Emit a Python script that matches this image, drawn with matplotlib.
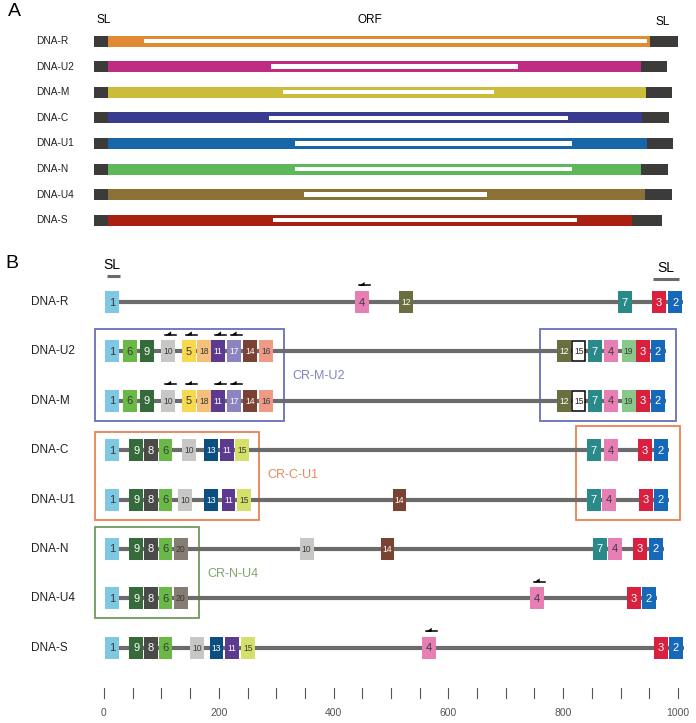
import matplotlib
matplotlib.use("Agg")
import matplotlib.pyplot as plt
from matplotlib.patches import Rectangle, Polygon

plt.rcParams['font.family'] = ['Liberation Sans', 'DejaVu Sans']

genomes = ['DNA-R', 'DNA-U2', 'DNA-M', 'DNA-C', 'DNA-U1', 'DNA-N', 'DNA-U4', 'DNA-S']

# panel A: genome length, end of coding region, ORF (white) start / end, in nt
a_len = [1017, 998, 1007, 1002, 1009, 1000, 1007, 990]
a_cds_end = [969, 953, 962, 955, 963, 953, 960, 937]
a_orf_start = [87, 308, 329, 305, 350, 350, 366, 312]
a_orf_end = [963, 739, 697, 826, 833, 833, 685, 842]
a_colors = ['#e08a34', '#bf2c84', '#cbbd3a', '#393c8e', '#1666a8', '#5cb85a', '#8c7038', '#a8200f']
sl_len = 24

# panel B: (gene id, start nt) for each genome
genes_R = [(1, 2), (4, 437), (12, 514), (7, 895), (3, 955), (2, 983)]
genes_U2 = [(1, 2), (6, 33), (9, 63), (10, 100), (5, 136), (18, 162), (11, 187), (17, 214),
            (14, 242), (16, 270), (12, 789), (15, 815), (7, 843), (4, 871), (19, 902), (3, 927), (2, 953)]
genes_M = list(genes_U2)
genes_C = [(1, 2), (9, 44), (8, 70), (6, 95), (10, 136), (13, 174), (11, 202), (15, 228),
           (7, 841), (4, 871), (3, 930), (2, 958)]
genes_U1 = [(1, 2), (9, 44), (8, 70), (6, 95), (10, 129), (13, 174), (11, 205), (15, 232),
            (14, 503), (7, 841), (4, 868), (3, 932), (2, 958)]
genes_N = [(1, 2), (9, 44), (8, 70), (6, 95), (20, 122), (10, 341), (14, 482), (7, 852),
           (4, 878), (3, 922), (2, 949)]
genes_U4 = [(1, 2), (9, 44), (8, 70), (6, 95), (20, 122), (4, 742), (3, 911), (2, 937)]
genes_S = [(1, 2), (9, 44), (8, 70), (6, 95), (10, 150), (13, 184), (11, 211), (15, 239),
           (4, 554), (3, 958), (2, 984)]
b_genes = [genes_R, genes_U2, genes_M, genes_C, genes_U1, genes_N, genes_U4, genes_S]

# genes with a primer arrow, per genome
b_arrows = [[4], [10, 5, 11, 17], [10, 5, 11, 17], [], [], [], [4], [4]]
# genes drawn as open box
b_open = [[], [15], [15], [], [], [], [], []]

gene_colors = {1: '#7ec8e3', 2: '#1569b8', 3: '#d9203f', 4: '#e77fb5', 5: '#f7d94f',
               6: '#6ab845', 7: '#2a8a8a', 8: '#4a4a48', 9: '#356a3a', 10: '#c7c7c5',
               11: '#5c3a8f', 12: '#6b6e3f', 13: '#0b4f80', 14: '#7a4232', 15: '#d4e06a',
               16: '#ee9a85', 17: '#8b84c0', 18: '#f6c07a', 19: '#88c98a', 20: '#857d74'}
light_text = {2, 3, 7, 8, 9, 11, 12, 13, 14, 17}

ticks = list(range(0, 1001, 50))
tick_labels = [0, 200, 400, 600, 800, 1000]

# conserved regions: name, rows, nt ranges of frames, colour
regions = [('CR-M-U2', (1, 2), [(-16, 314), (760, 997)], '#6a6fb8', '#7f83c4'),
           ('CR-C-U1', (3, 4), [(-16, 270), (822, 1003)], '#e8814f', '#e58a5e'),
           ('CR-N-U4', (5, 6), [(-16, 166)], '#6e9a5b', '#7ea56a')]

W, H = 696, 723
px = 0.574  # pixels per nt
fig = plt.figure(figsize=(W / 100, H / 100), dpi=100)

# ---- panel A ----
axA = fig.add_axes([0, 0, 1, 1])
x0A = 94
axA.set_xlim(-x0A / px, (W - x0A) / px)
axA.set_ylim(H, 0)
axA.axis('off')
rowA = [41 + 25.6 * i for i in range(len(genomes))]
bh = 11
for i, g in enumerate(genomes):
    y = rowA[i]
    axA.add_patch(Rectangle((0, y - bh / 2), sl_len, bh, color='#3d3a3a', lw=0))
    axA.add_patch(Rectangle((sl_len, y - bh / 2), a_cds_end[i] - sl_len, bh, color=a_colors[i], lw=0))
    axA.add_patch(Rectangle((a_cds_end[i], y - bh / 2), a_len[i] - a_cds_end[i], bh, color='#3d3a3a', lw=0))
    axA.add_patch(Rectangle((a_orf_start[i], y - 2.2), a_orf_end[i] - a_orf_start[i], 4.4, color='white', lw=0))
    axA.text(-101, y, g, fontsize=7.3, ha='left', va='center', color='#222')
axA.text(-150, 12, 'A', fontsize=14, ha='left', va='center')
narrow = ['Liberation Sans Narrow', 'Liberation Sans']
axA.text(16, 20, 'SL', fontsize=8.5, ha='center', va='center', family=narrow)
axA.text(480, 20, 'ORF', fontsize=8.5, ha='center', va='center', family=narrow)
axA.text(991, 22, 'SL', fontsize=8.5, ha='center', va='center', family=narrow)

# ---- panel B ----
axB = fig.add_axes([0, 0, 1, 1])
axB.patch.set_alpha(0)
x0B = 104
axB.set_xlim(-x0B / px, (W - x0B) / px)
axB.set_ylim(H, 0)
axB.axis('off')
rowB = [302 + 49.4 * i for i in range(len(genomes))]
bw, gh = 24, 22

for k, (name, (r1, r2), spans, ec, tc) in enumerate(regions):
    for j, (xa, xb) in enumerate(spans):
        top = rowB[r1] - (24 if (k == 1 and j == 1) else 22 if k != 1 else 18)
        bot = rowB[r2] + 20
        axB.add_patch(Rectangle((xa, top), xb - xa, bot - top, fill=False, ec=ec, lw=1.3))
    xl = spans[0][1] + 14
    axB.text(xl, (rowB[r1] + rowB[r2]) / 2, name, fontsize=9, color=tc, ha='left', va='center')

for i, g in enumerate(genomes):
    y = rowB[i]
    genes = b_genes[i]
    start = genes[0][1]
    end = genes[-1][1] + bw + 2
    axB.plot([start, end], [y, y], color='#6b6b6b', lw=3, solid_capstyle='butt', zorder=1)
    axB.text(-128, y, g, fontsize=8.5, ha='left', va='center', color='#222')
    for gid, s in genes:
        if gid in b_open[i]:
            axB.add_patch(Rectangle((s + 1, y - gh / 2 + 1), bw - 2, gh - 2, fc='white', ec='black', lw=1.1, zorder=2))
            tcol = '#222'
        else:
            axB.add_patch(Rectangle((s, y - gh / 2), bw, gh, color=gene_colors[gid], lw=0, zorder=2))
            tcol = 'white' if gid in light_text else '#3a3a3a'
        fs = 8 if gid < 10 else 6.2
        axB.text(s + bw / 2, y + 0.5, str(gid), fontsize=fs, color=tcol, ha='center', va='center', zorder=3)
        if gid in b_arrows[i]:
            yb = y - gh / 2 - 5
            xa = s + 7
            axB.add_patch(Polygon([(xa, yb), (xa + 10, yb - 4), (xa + 10, yb)], closed=True,
                                  color='black', lw=0, zorder=3))
            axB.plot([xa, s + bw + 2], [yb - 0.6, yb - 0.6], color='black', lw=1.1, zorder=3)

axB.text(-172, 264, 'B', fontsize=14, ha='left', va='center')
axB.text(14, 265, 'SL', fontsize=10, ha='center', va='center', family=narrow)
axB.plot([6, 28], [276, 276], color='#6b6b6b', lw=2.2, solid_capstyle='butt')
axB.text(978, 268, 'SL', fontsize=10, ha='center', va='center', family=narrow)
axB.plot([956, 1002], [279, 279], color='#6b6b6b', lw=2.2, solid_capstyle='butt')

for t in ticks:
    axB.plot([t, t], [688, 698], color='#555', lw=0.8)
for t in tick_labels:
    axB.text(t, 713, str(t), fontsize=7.5, color='#555', ha='center', va='center')

fig.savefig('out.png', dpi=100)
